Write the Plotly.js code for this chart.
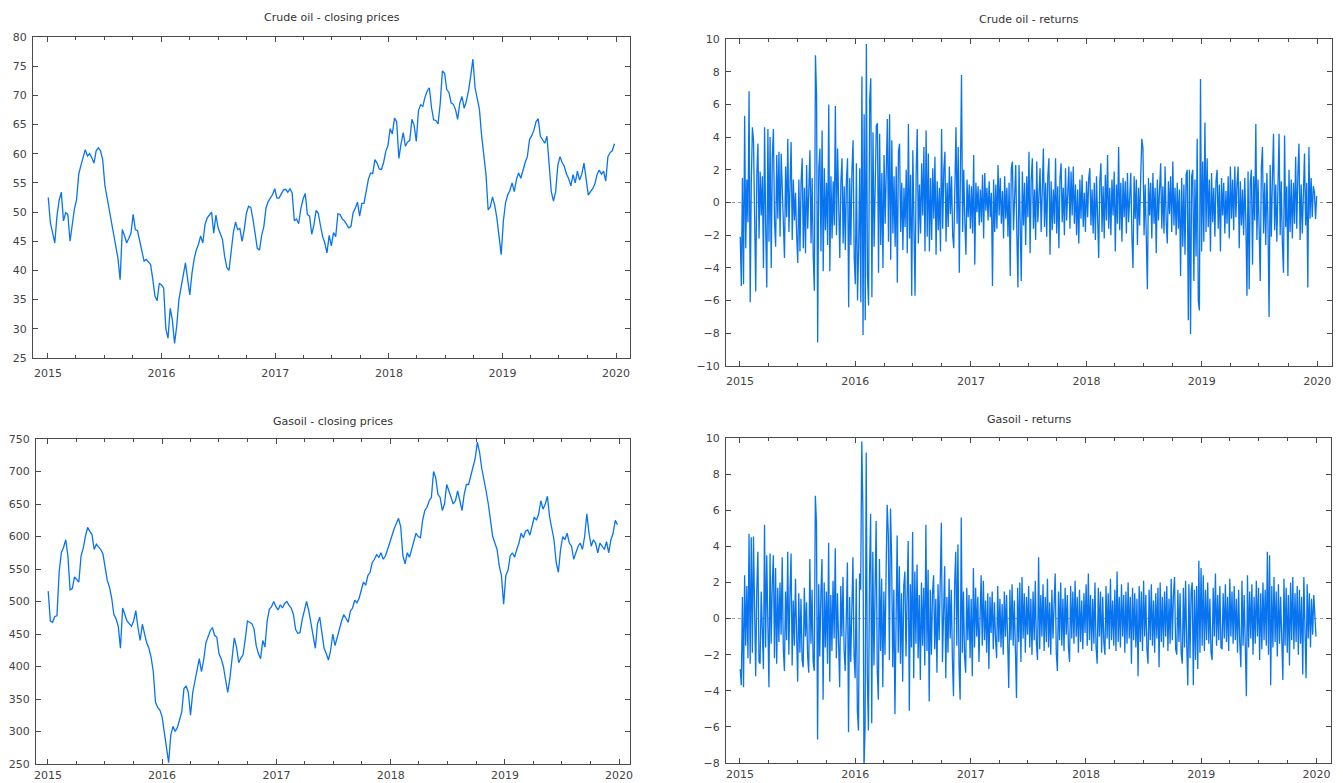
<!DOCTYPE html>
<html>
<head>
<meta charset="utf-8">
<script src="https://cdn.plot.ly/plotly-3.0.1.min.js"></script>
<style>
html,body{margin:0;padding:0;background:#ffffff;}
#chart{width:1343px;height:783px;}
</style>
</head>
<body>
<div id="chart"></div>
<script>
// ---------------- DATA ----------------
const panelTitles = ['Crude oil - closing prices', 'Crude oil - returns', 'Gasoil - closing prices', 'Gasoil - returns'];
const priceStart = '2015-01-02';   // weekly closing prices
const priceStepDays = 7;
const returnStart = '2015-01-02';  // returns sampled twice a week
const returnStepDays = 3.5;
const yearTicks = ['2015-01-01','2016-01-01','2017-01-01','2018-01-01','2019-01-01','2020-01-01'];

const crudePrice = [
 // 2015
 52.5,48.1,46.5,44.7,49.3,52.0,53.4,48.5,49.9,49.6,45.0,48.0,50.5,52.1,56.5,58.0,59.6,60.7,59.6,60.0,
 59.3,58.4,60.5,61.0,60.5,59.0,54.6,52.5,50.5,48.5,46.0,43.6,42.1,38.4,47.0,46.0,44.7,45.5,46.4,49.6,
 47.0,46.8,45.0,43.0,41.6,41.9,41.5,41.0,38.5,35.6,34.8,37.8,
 // 2016
 37.5,37.0,30.0,28.4,33.5,31.5,27.5,30.5,35.0,37.0,39.5,41.3,38.5,35.8,39.5,42.0,43.5,44.5,45.9,44.7,
 47.9,49.0,49.5,50.0,46.4,49.5,47.3,46.1,45.3,42.4,40.5,40.0,43.0,46.5,48.3,47.0,47.2,45.0,47.0,49.8,
 51.0,50.8,48.8,46.0,43.8,43.5,46.0,47.5,50.7,51.8,52.5,53.0,
 // 2017
 54.0,52.4,52.4,53.2,53.8,53.9,53.4,54.0,53.3,48.5,48.8,48.0,50.6,52.2,53.2,49.6,49.3,46.2,47.8,50.3,
 49.8,47.7,45.8,44.7,43.0,46.0,44.2,46.5,45.8,49.7,49.6,48.8,48.5,47.9,47.3,47.5,49.9,50.7,51.7,49.3,
 51.5,51.5,53.9,55.6,56.7,56.6,59.0,58.4,57.4,57.3,58.5,60.4,
 // 2018
 61.4,64.3,63.4,66.1,65.5,59.2,61.7,63.6,61.3,62.0,62.3,65.9,64.9,62.1,67.4,68.4,68.1,69.7,70.7,71.3,
 67.9,65.8,65.7,65.1,68.6,74.2,73.8,71.0,70.5,68.7,68.5,67.6,65.9,68.7,69.8,67.8,69.0,70.8,73.3,76.2,
 71.3,69.1,67.6,63.1,60.2,56.5,50.4,50.9,52.6,51.2,49.0,46.0,
 // 2019
 42.7,48.5,51.6,53.0,53.7,55.0,53.5,55.6,56.7,55.8,57.2,58.5,59.5,62.4,63.1,64.0,65.5,66.0,63.0,62.4,
 61.8,63.0,57.5,53.5,51.9,53.5,58.0,59.5,58.5,57.8,56.5,55.7,54.5,56.4,55.0,57.0,55.5,56.5,58.4,55.5,
 52.9,53.5,54.0,54.8,56.4,57.2,56.5,57.0,55.3,59.5,60.2,60.5,61.7
];

const gasoilPrice = [
 // 2015
 516,470,468,477,478,545,575,583,595,570,518,520,538,534,530,570,582,600,614,608,
 603,580,588,584,580,573,550,532,522,505,480,473,462,428,490,478,470,466,462,470,
 486,460,440,465,450,436,428,414,392,345,337,333,
 // 2016
 323,298,280,252,295,308,300,306,318,330,366,370,360,325,360,378,394,412,392,410,
 436,446,455,460,448,445,420,412,400,380,360,382,416,444,430,406,413,418,442,470,
 468,466,458,432,420,412,440,430,470,488,492,500,
 // 2017
 492,487,495,490,497,500,494,490,480,457,451,452,472,486,500,486,466,446,428,466,
 476,452,428,420,410,425,450,432,446,460,470,480,475,468,485,490,502,498,505,520,
 530,525,540,545,560,565,572,568,575,565,570,580,
 // 2018
 592,600,612,620,628,615,570,558,575,568,580,590,605,600,598,625,640,645,655,660,
 700,690,665,660,640,650,680,670,660,650,655,670,655,640,665,680,680,695,705,720,
 745,730,705,690,670,650,620,600,590,580,555,540,
 // 2019
 496,540,548,570,575,568,580,590,605,598,608,610,602,615,630,625,635,655,642,650,
 662,630,615,595,560,545,580,600,595,605,590,585,565,575,585,590,580,600,635,605,
 585,595,590,575,590,585,580,592,575,595,605,625,618
];

const crudeReturns = [
 // 2015
 -2.1,-5.1,1.5,-5.0,5.3,-2.8,1.4,-1.2,6.8,-6.1,
 1.2,4.6,3.8,-2.9,-5.45,1.7,3.6,-2.2,1.9,-0.8,
 1.6,-4.0,4.6,-1.5,-5.2,4.5,-2.4,4.0,-4.0,2.8,
 4.5,-1.2,-2.7,2.9,-1.0,3.1,-2.1,3.0,0.8,-1.5,
 -3.4,2.2,-0.9,3.9,-1.8,1.0,3.7,-2.3,1.4,-1.1,
 0.6,-2.0,-3.7,1.4,-3.0,1.2,2.7,-2.8,0.9,-3.1,
 2.3,-1.6,1.1,3.2,-2.5,1.5,-3.3,-5.4,9.0,6.5,
 -8.57,2.0,3.3,-3.0,4.4,-4.2,2.1,-1.7,1.2,-2.6,
 6.0,-4.2,1.6,-2.2,1.3,-1.4,5.9,-2.0,3.3,-1.1,
 -3.4,1.3,2.7,-2.5,1.0,-2.9,1.4,2.7,-6.4,1.5,
 -2.6,2.0,3.8,-3.3,-5.0,
 // 2016
 2.4,-6.0,-2.9,2.1,-6.1,7.7,-8.1,5.4,-7.2,9.7,
 -4.5,-6.3,6.3,7.6,-5.8,4.3,-2.7,2.5,4.7,4.85,
 -4.3,4.2,-2.6,1.8,-4.0,2.9,-1.3,1.9,5.1,-2.4,
 5.4,-3.5,3.8,-1.9,1.6,-2.7,2.2,-4.9,3.1,3.6,
 -1.8,1.2,-2.9,0.9,-1.5,2.0,-3.1,4.8,-2.2,1.7,
 -5.7,3.2,-2.0,-5.7,1.8,4.5,-2.5,1.1,-1.9,2.4,
 -0.8,3.4,-3.0,4.4,-2.1,3.0,-3.0,1.5,-2.3,2.1,
 -1.0,2.8,-3.2,1.3,-1.7,0.9,-3.0,4.5,-1.6,2.0,
 3.1,-2.4,1.2,-1.5,2.2,-0.7,1.6,-2.0,-2.8,1.9,
 4.6,-1.3,3.4,-4.3,1.2,7.8,-1.8,2.0,-1.1,-3.2,
 1.4,-0.9,1.1,-1.6,
 // 2017
 1.0,-1.9,2.9,-3.8,1.2,-0.6,1.0,-1.4,0.8,-1.2,
 1.7,-2.2,1.8,-0.5,0.9,-1.1,1.3,-0.9,0.6,-5.1,
 1.4,-1.8,1.1,-1.6,2.3,-0.8,1.5,-1.3,0.7,-2.2,
 1.6,-1.0,0.9,-2.1,1.2,-4.5,2.1,2.5,-1.7,1.0,
 2.3,-1.9,-5.2,2.3,-2.0,-4.8,1.9,-1.4,1.2,-2.6,
 1.6,-0.9,3.1,-3.1,1.4,2.7,-1.6,0.8,-2.3,2.5,
 -1.2,1.1,2.1,-1.8,0.9,3.3,-1.5,1.2,-2.1,1.6,
 2.7,-3.2,1.3,-1.7,0.8,-1.3,2.7,-1.9,1.0,-2.8,
 1.5,2.4,-1.2,0.9,-2.0,2.1,-1.1,0.7,2.2,-1.6,
 1.9,-0.8,2.2,-1.3,1.1,-2.0,0.8,-2.5,1.4,-1.0,
 1.7,-1.5,0.6,-1.8,1.3,
 // 2018
 -0.9,1.5,2.1,-1.4,0.8,-1.9,1.2,-2.3,1.6,-0.7,
 -3.4,1.3,2.4,-1.8,1.0,-2.2,1.7,-1.1,2.9,-1.6,
 0.9,-2.0,1.4,-0.8,1.9,-3.0,1.1,-1.3,3.4,-1.7,
 1.2,-2.4,1.5,-0.9,1.3,-1.9,1.8,-1.2,0.7,1.8,
 -2.1,-4.0,1.6,-1.0,1.4,-2.6,0.9,-1.4,1.7,3.9,
 3.3,-2.0,1.1,-1.7,-5.3,1.5,-0.8,1.2,-2.2,1.8,
 -1.3,0.9,-3.1,1.4,-1.1,0.8,2.4,-1.6,1.0,-1.9,
 2.2,-1.2,-2.5,1.3,-0.7,1.6,-1.8,2.5,-1.4,0.9,
 -2.0,1.2,-1.6,0.8,-4.5,1.5,-2.7,1.1,-3.2,1.7,
 2.0,-7.2,2.0,-8.05,1.6,2.0,-4.8,1.4,-3.3,3.9,
 -6.0,-6.6,7.55,-3.0,
 // 2019
 2.5,-2.4,4.9,-1.8,2.7,-1.5,1.4,-3.0,1.8,-1.2,
 0.9,-2.1,1.3,2.0,-1.6,1.1,-3.0,1.5,-0.8,1.2,
 -1.9,0.7,-1.3,1.6,-2.2,2.2,-1.0,1.4,-1.7,2.2,
 -0.9,1.1,2.2,-2.8,1.3,-1.4,0.8,-2.0,1.5,-1.2,
 -5.7,1.9,-5.3,1.2,2.0,-3.8,1.6,-1.1,4.8,-2.3,
 1.4,-1.6,-4.8,2.1,3.4,-1.9,1.2,-2.6,1.8,-1.3,
 -7.0,2.3,-2.1,1.5,4.2,-1.7,1.1,-2.4,1.6,4.2,
 -2.0,1.3,-2.5,-4.3,4.1,-1.5,1.0,-4.5,2.0,-1.8,
 1.4,-2.2,1.2,-1.3,2.8,-1.6,1.7,3.6,-2.3,1.1,
 -1.9,1.5,3.0,-1.4,1.2,-5.2,3.4,-1.0,1.5,-0.9,
 1.0,0.6,-1.0,0.4
];

const gasoilReturns = [
 // 2015
 -2.8,-3.7,1.2,-3.8,2.4,-1.5,1.8,-2.2,4.7,-2.5,
 4.5,-1.9,4.55,-1.2,-3.2,1.6,3.7,-2.4,-2.5,1.5,
 -1.0,-2.8,5.2,-1.6,3.5,-2.0,-3.8,3.6,-1.4,1.9,
 3.5,-2.2,2.8,-2.5,1.7,-1.3,2.0,-0.9,3.4,-1.7,
 -2.9,1.5,-1.2,3.7,-2.0,1.3,3.6,-2.6,1.0,-1.5,
 2.2,-0.8,-3.5,1.4,-1.9,1.1,-2.3,-2.7,1.7,-1.0,
 0.9,-2.1,-3.0,3.3,-1.4,1.6,-2.4,-2.9,6.8,5.3,
 -6.7,1.9,-2.1,1.4,3.3,-4.5,2.0,-1.6,1.5,-2.5,
 4.2,-3.5,1.3,-1.8,2.1,-1.1,3.9,-2.2,1.4,-1.3,
 -3.8,1.8,-1.0,2.3,-1.7,-2.9,1.6,3.1,-6.3,1.2,
 -2.4,1.9,3.4,-2.0,-3.3,
 // 2016
 2.2,-5.1,-6.2,2.5,1.6,9.8,6.0,-8.3,-6.0,9.2,
 -3.1,-6.2,2.4,5.8,-5.8,3.7,-2.6,1.9,5.4,-2.9,
 -4.5,3.3,-1.8,2.2,-3.8,1.5,-2.0,2.6,6.3,4.7,
 -2.3,6.1,3.4,-2.7,1.6,-5.3,2.2,4.6,-1.9,2.9,
 -2.5,1.4,-3.5,1.8,2.6,-2.1,1.2,4.3,-5.1,1.9,
 -1.6,4.8,-3.3,2.6,-1.4,3.0,-2.2,1.3,-3.4,2.0,
 -1.5,1.7,-2.6,5.2,-1.8,2.7,-4.6,1.6,-2.0,1.4,
 2.4,-1.7,1.1,-3.0,1.9,-1.2,2.1,5.3,-2.4,1.5,
 2.9,-3.3,1.2,-1.9,2.2,-1.1,1.6,-2.3,-4.3,1.8,
 3.7,-1.5,4.1,-2.6,-4.5,5.6,-1.9,1.5,-2.1,-3.0,
 1.7,-1.2,1.3,-2.2,
 // 2017
 1.1,-3.2,2.8,-1.6,1.7,-1.0,1.2,-2.4,0.9,2.4,
 -1.5,2.1,-1.2,1.0,-1.9,1.4,-2.8,1.2,-0.8,1.5,
 -1.7,0.9,-1.1,-2.2,1.8,-1.3,1.1,-1.6,0.8,-2.0,
 1.5,-1.0,1.3,-1.8,-3.85,1.6,-1.2,1.9,-1.5,1.0,
 -2.1,-4.4,1.7,-1.3,2.0,-2.4,2.3,-1.1,1.4,-1.9,
 1.2,-0.9,1.8,-1.6,1.1,-2.0,1.5,-1.2,2.1,-1.4,
 -2.3,3.4,-1.7,1.3,-1.0,1.9,-1.8,1.2,-1.3,2.2,
 -1.6,0.9,-2.0,1.6,-1.1,1.4,2.5,-1.9,-2.9,1.5,
 -1.2,2.0,-1.5,1.1,-1.8,1.7,-0.9,1.3,-1.6,-2.4,
 1.8,-1.1,1.5,-1.4,2.1,-1.0,1.2,-1.9,1.6,-1.3,
 1.0,-1.7,1.4,-0.8,1.9,
 // 2018
 -1.5,2.5,-1.2,1.3,-1.8,1.1,-1.4,2.0,-1.6,-2.5,
 1.7,-1.0,1.5,-1.9,1.2,-1.3,-2.0,1.8,-1.1,1.4,
 -1.7,2.2,-1.2,1.0,-1.5,1.6,-1.8,2.6,-1.3,1.2,
 -1.6,1.9,-1.0,1.3,-1.9,1.5,-1.4,2.0,-1.1,1.2,
 -2.5,1.7,-1.2,1.4,-1.6,1.1,-3.2,1.8,-1.3,1.5,
 -1.8,2.1,-1.0,1.3,-1.7,-2.5,1.6,-1.2,1.9,-1.5,
 1.0,-1.9,1.4,-1.1,1.7,-2.7,2.0,-1.3,1.2,-1.6,
 1.5,-1.0,1.8,-1.8,1.1,-1.4,2.2,-1.2,1.3,2.3,
 -1.7,-2.0,1.6,-1.3,1.4,-1.9,-2.5,1.7,-1.6,2.1,
 -1.4,-3.7,1.9,-2.2,1.5,2.0,-3.7,1.6,-2.3,1.8,
 -2.8,3.2,-1.9,2.8,
 // 2019
 -1.5,2.4,-1.8,1.6,-1.2,2.0,-1.4,1.1,-1.9,-2.3,
 1.7,-1.0,2.5,-1.5,1.3,-1.2,1.8,-1.6,-1.7,1.4,
 -1.1,1.9,-1.3,1.2,-1.8,2.2,-1.0,1.5,-1.4,1.8,
 -1.2,1.1,-1.9,1.6,-1.3,-2.7,2.1,-1.5,1.3,-1.8,
 -4.3,2.4,-1.6,1.5,-1.1,1.9,-2.0,1.2,-1.4,2.1,
 -1.0,1.7,-2.3,1.4,-1.7,2.0,-1.2,1.6,-1.5,3.7,
 -2.0,3.5,-3.7,1.8,-1.6,2.3,-1.3,1.5,-2.1,1.9,
 -1.4,1.2,-1.8,-3.4,2.2,-1.5,1.7,-1.9,1.3,-2.6,
 2.0,-1.2,2.3,-1.7,1.4,-1.3,1.8,-2.0,1.6,-1.4,
 1.2,-3.1,2.3,-1.5,-3.3,1.9,-1.1,1.4,-1.6,1.1,
 -0.9,1.3,0.4,-1.0
];

// ---------------- BUILD ----------------
function datesFrom(start, stepDays, n) {
  const t0 = Date.parse(start + 'T00:00:00Z');
  const out = [];
  for (let i = 0; i < n; i++) {
    const d = new Date(t0 + i * stepDays * 86400000);
    out.push(d.toISOString().slice(0, 16).replace('T', ' '));
  }
  return out;
}
const priceDates = datesFrom(priceStart, priceStepDays, crudePrice.length);
const gasPriceDates = datesFrom(priceStart, priceStepDays, gasoilPrice.length);
const retDates = datesFrom(returnStart, returnStepDays, crudeReturns.length);
const gasRetDates = datesFrom(returnStart, returnStepDays, gasoilReturns.length);

const BLUE = 'rgb(8,116,240)';
const AX = '#4a4a4a';
const FONT = 'DejaVu Sans, Verdana, sans-serif';
const W = 1343, H = 783;

function xAxis(l, r, range, anchor, standoff) {
  return {
    type: 'date', domain: [l / W, r / W], range: range, anchor: anchor,
    showline: true, linecolor: AX, linewidth: 1, mirror: 'ticks',
    ticks: 'inside', ticklen: 5, tickcolor: AX, tickwidth: 1,
    tickmode: 'array', tickvals: yearTicks, ticktext: yearTicks.map(s => s.slice(0, 4)),
    showgrid: false, zeroline: false,
    tickfont: {family: FONT, size: 11, color: '#444'},
    ticklabelstandoff: standoff,
    minor: {dtick: 'M3', tick0: '2015-01-01', ticks: 'inside', ticklen: 3, tickcolor: AX, showgrid: false},
    fixedrange: true
  };
}
function yAxis(top, bottom, range, dtick, anchor) {
  return {
    domain: [1 - bottom / H, 1 - top / H], range: range, anchor: anchor,
    showline: true, linecolor: AX, linewidth: 1, mirror: 'ticks',
    ticks: 'inside', ticklen: 5, tickcolor: AX, tickwidth: 1,
    dtick: dtick, tick0: 0, showgrid: false, zeroline: false,
    tickfont: {family: FONT, size: 11, color: '#444'},
    ticklabelstandoff: 3,
    fixedrange: true
  };
}

const traces = [
  {x: priceDates, y: crudePrice, xaxis: 'x', yaxis: 'y', type: 'scatter', mode: 'lines',
   line: {color: BLUE, width: 1.3}, hoverinfo: 'skip'},
  {x: retDates, y: crudeReturns, xaxis: 'x2', yaxis: 'y2', type: 'scatter', mode: 'lines',
   line: {color: BLUE, width: 1.3}, hoverinfo: 'skip'},
  {x: gasPriceDates, y: gasoilPrice, xaxis: 'x3', yaxis: 'y3', type: 'scatter', mode: 'lines',
   line: {color: BLUE, width: 1.3}, hoverinfo: 'skip'},
  {x: gasRetDates, y: gasoilReturns, xaxis: 'x4', yaxis: 'y4', type: 'scatter', mode: 'lines',
   line: {color: BLUE, width: 1.3}, hoverinfo: 'skip'}
];

function title(text, cx, cy) {
  return {text: text, xref: 'paper', yref: 'paper', x: cx / W, y: 1 - cy / H,
          xanchor: 'center', yanchor: 'middle', showarrow: false,
          font: {family: FONT, size: 11, color: '#333'}};
}

const layout = {
  width: W, height: H, autosize: false,
  margin: {l: 0, r: 0, t: 0, b: 0, pad: 0},
  paper_bgcolor: '#ffffff', plot_bgcolor: '#ffffff',
  showlegend: false,
  font: {family: FONT, size: 11, color: '#444'},
  xaxis:  xAxis(33, 630, ['2014-11-14', '2020-02-15'], 'y', 5),
  yaxis:  yAxis(37, 358, [25, 80], 5, 'x'),
  xaxis2: xAxis(726, 1332, ['2014-11-18', '2020-02-17'], 'y2', 5),
  yaxis2: yAxis(39, 366, [-10, 10], 2, 'x2'),
  xaxis3: xAxis(36, 630, ['2014-11-24', '2020-02-05'], 'y3', 1),
  yaxis3: yAxis(439, 764, [250, 750], 50, 'x3'),
  xaxis4: xAxis(726, 1331, ['2014-11-18', '2020-02-16'], 'y4', 1),
  yaxis4: yAxis(438, 763, [-8, 10], 2, 'x4'),
  annotations: [
    title(panelTitles[0], 331.5, 18),
    title(panelTitles[1], 1029, 20),
    title(panelTitles[2], 333, 421),
    title(panelTitles[3], 1028.5, 419)
  ],
  shapes: [
    {type: 'line', xref: 'x2 domain', yref: 'y2', x0: 0, x1: 1, y0: 0, y1: 0,
     line: {color: '#9a9a9a', width: 1, dash: 'dot'}, layer: 'below'},
    {type: 'line', xref: 'x4 domain', yref: 'y4', x0: 0, x1: 1, y0: 0, y1: 0,
     line: {color: '#9a9a9a', width: 1, dash: 'dot'}, layer: 'below'}
  ]
};

Plotly.newPlot('chart', traces, layout, {displayModeBar: false, staticPlot: true});
</script>
</body>
</html>
